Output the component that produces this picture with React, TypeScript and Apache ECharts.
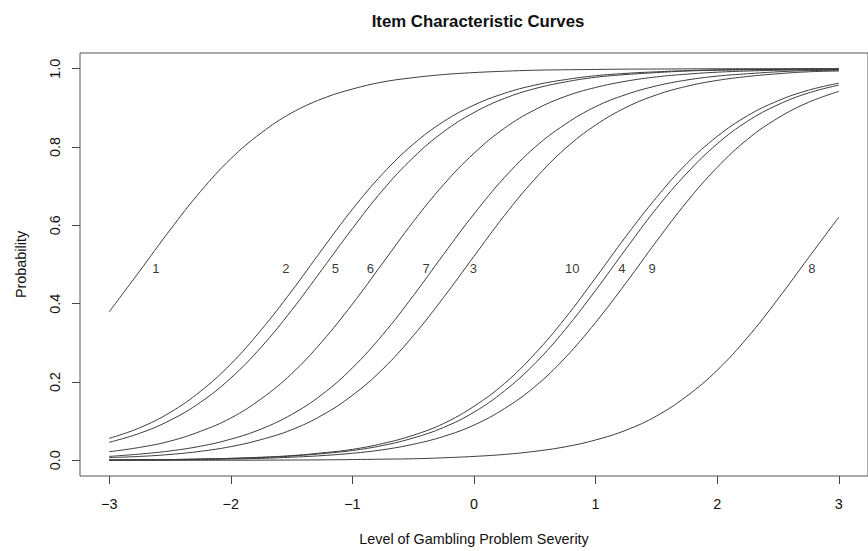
import React, { useEffect, useRef } from "react";
import * as echarts from "echarts";

// Ability (theta) values at which the curves were read
const theta = [
  -3, -2.75, -2.5, -2.25, -2, -1.75, -1.5, -1.25, -1, -0.75, -0.5, -0.25, 0,
  0.25, 0.5, 0.75, 1, 1.25, 1.5, 1.75, 2, 2.25, 2.5, 2.75, 3,
];

// Probability of endorsement per item
const item1 = [0.379, 0.483, 0.588, 0.686, 0.770, 0.836, 0.887, 0.923, 0.948, 0.966, 0.977, 0.985, 0.990, 0.9935, 0.996, 0.9972, 0.998, 0.9988, 0.999, 0.9995, 0.9997, 0.9998, 0.9999, 0.9999, 1.0];
const item2 = [0.056, 0.083, 0.122, 0.176, 0.246, 0.333, 0.432, 0.538, 0.641, 0.732, 0.807, 0.865, 0.907, 0.937, 0.958, 0.972, 0.982, 0.988, 0.992, 0.995, 0.997, 0.998, 0.998, 0.999, 0.999];
const item3 = [0.007, 0.010, 0.015, 0.023, 0.035, 0.053, 0.078, 0.115, 0.166, 0.233, 0.318, 0.416, 0.521, 0.625, 0.718, 0.796, 0.856, 0.901, 0.933, 0.955, 0.970, 0.980, 0.987, 0.992, 0.994];
const item4 = [0.001, 0.0013, 0.002, 0.003, 0.005, 0.007, 0.011, 0.017, 0.025, 0.038, 0.057, 0.084, 0.123, 0.177, 0.247, 0.334, 0.434, 0.540, 0.643, 0.733, 0.808, 0.866, 0.908, 0.938, 0.958];
const item5 = [0.046, 0.069, 0.102, 0.148, 0.210, 0.289, 0.383, 0.487, 0.592, 0.690, 0.773, 0.839, 0.888, 0.924, 0.949, 0.966, 0.978, 0.985, 0.990, 0.994, 0.996, 0.997, 0.998, 0.999, 0.999];
const item6 = [0.022, 0.033, 0.049, 0.074, 0.108, 0.157, 0.221, 0.303, 0.399, 0.504, 0.609, 0.704, 0.784, 0.848, 0.895, 0.929, 0.952, 0.968, 0.979, 0.986, 0.991, 0.994, 0.996, 0.997, 0.998];
const item7 = [0.010, 0.016, 0.024, 0.036, 0.054, 0.080, 0.117, 0.168, 0.236, 0.321, 0.420, 0.526, 0.629, 0.722, 0.799, 0.858, 0.903, 0.934, 0.956, 0.971, 0.981, 0.987, 0.992, 0.995, 0.996];
const item8 = [0.0001, 0.0001, 0.0001, 0.0002, 0.0003, 0.0005, 0.0008, 0.0012, 0.002, 0.003, 0.004, 0.0065, 0.010, 0.015, 0.023, 0.0345, 0.052, 0.077, 0.113, 0.164, 0.230, 0.314, 0.412, 0.517, 0.621];
const item9 = [0.0006, 0.0009, 0.0014, 0.0022, 0.0033, 0.005, 0.008, 0.012, 0.018, 0.027, 0.041, 0.061, 0.090, 0.132, 0.188, 0.262, 0.352, 0.453, 0.559, 0.660, 0.748, 0.820, 0.874, 0.914, 0.942];
const item10 = [0.001, 0.0015, 0.002, 0.0035, 0.005, 0.008, 0.012, 0.019, 0.028, 0.043, 0.064, 0.094, 0.138, 0.196, 0.272, 0.363, 0.466, 0.572, 0.671, 0.758, 0.827, 0.880, 0.918, 0.945, 0.963];

const items = [item1, item2, item3, item4, item5, item6, item7, item8, item9, item10];
const itemNames = ["1", "2", "3", "4", "5", "6", "7", "8", "9", "10"];

// Curve labels (as placed in the plot)
const labelNames = ["1", "2", "5", "6", "7", "3", "10", "4", "9", "8"];
const labelX = [-2.617, -1.547, -1.14, -0.852, -0.394, -0.006, 0.808, 1.216, 1.464, 2.778];
const labelY = [0.49, 0.49, 0.49, 0.49, 0.49, 0.49, 0.49, 0.49, 0.49, 0.49];

// Axis ticks
const xTicks = [-3, -2, -1, 0, 1, 2, 3];
const yTicks = [0, 0.2, 0.4, 0.6, 0.8, 1.0];

const FONT = "'Liberation Sans', Arial, Helvetica, sans-serif";

export default function App() {
  const ref = useRef<HTMLDivElement>(null);

  useEffect(() => {
    if (!ref.current) return;
    const chart = echarts.init(ref.current, undefined, { renderer: "svg" });

    const lineSeries = items.map((vals, i) => ({
      name: "Item " + itemNames[i],
      type: "line",
      data: theta.map((t, j) => [t, vals[j]]),
      showSymbol: false,
      symbol: "none",
      smooth: 0.4,
      lineStyle: { color: "#3c3c3c", width: 1 },
      itemStyle: { color: "#3c3c3c" },
      silent: true,
      z: 2,
    }));

    const labelSeries = {
      name: "labels",
      type: "scatter",
      symbolSize: 0,
      itemStyle: { color: "#000" },
      data: labelNames.map((n, i) => ({ name: n, value: [labelX[i], labelY[i]] })),
      label: {
        show: true,
        position: [0, 0],
        align: "center",
        verticalAlign: "middle",
        formatter: "{b}",
        color: "#000",
        fontSize: 13,
        fontFamily: FONT,
      },
      silent: true,
      z: 3,
    };

    chart.setOption({
      animation: false,
      backgroundColor: "#ffffff",
      grid: {
        show: true,
        left: 80,
        top: 53,
        width: 796,
        height: 428,
        borderColor: "#555",
        borderWidth: 1,
        backgroundColor: "transparent",
        containLabel: false,
      },
      graphic: [
        {
          type: "text",
          x: 478,
          y: 21,
          style: {
            text: "Item Characteristic Curves",
            font: "bold 16.8px " + FONT,
            fill: "#111",
            textAlign: "center",
            textVerticalAlign: "middle",
          },
        },
      ],
      xAxis: {
        type: "value",
        min: -3.24,
        max: 3.24,
        name: "Level of Gambling Problem Severity",
        nameLocation: "middle",
        nameGap: 56,
        nameTextStyle: { fontSize: 14.4, fontFamily: FONT, color: "#111" },
        axisLine: { show: false, onZero: false },
        splitLine: { show: false },
        axisTick: {
          show: true,
          length: 8,
          customValues: xTicks,
          lineStyle: { color: "#444", width: 1 },
        },
        axisLabel: {
          customValues: xTicks,
          margin: 21,
          fontSize: 14.4,
          fontFamily: FONT,
          color: "#111",
          formatter: (v: number) => String(v).replace("-", "\u2212"),
        },
      },
      yAxis: {
        type: "value",
        min: -0.04,
        max: 1.04,
        name: "Probability",
        nameLocation: "middle",
        nameGap: 52,
        nameRotate: 90,
        nameTextStyle: { fontSize: 14.4, fontFamily: FONT, color: "#111" },
        axisLine: { show: false, onZero: false },
        splitLine: { show: false },
        axisTick: {
          show: true,
          length: 8,
          customValues: yTicks,
          lineStyle: { color: "#444", width: 1 },
        },
        axisLabel: {
          customValues: yTicks,
          rotate: 90,
          margin: 18,
          fontSize: 14.4,
          fontFamily: FONT,
          color: "#111",
          formatter: (v: number) => v.toFixed(1),
        },
      },
      series: [...lineSeries, labelSeries],
    });

    return () => chart.dispose();
  }, []);

  return (
    <div
      ref={ref}
      style={{ position: "absolute", left: 0, top: 0, width: 868, height: 551 }}
    />
  );
}
